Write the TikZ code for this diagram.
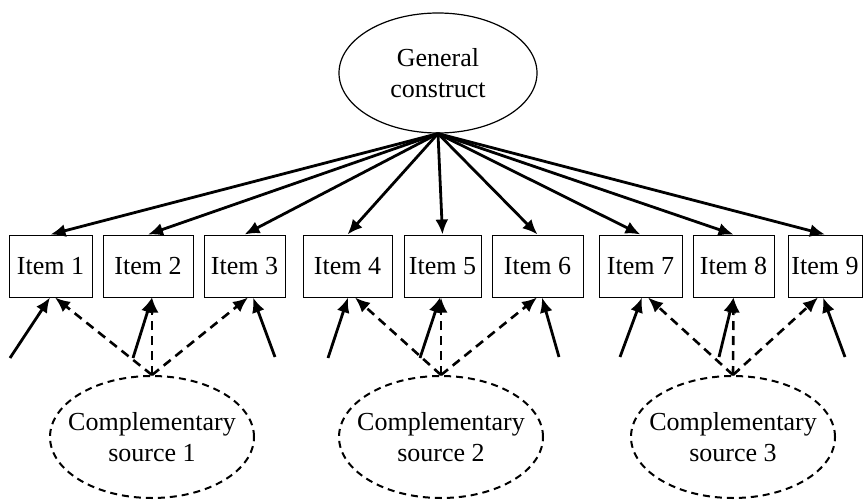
\documentclass[tikz,border=0pt]{standalone}
\usepackage{fontspec}
\setmainfont{Liberation Serif}
\usetikzlibrary{arrows.meta,shapes.geometric}
\begin{document}
\begin{tikzpicture}[x=1pt,y=-1pt,
  every node/.style={font=\fontsize{26}{31}\selectfont},
  itembox/.style={draw,line width=1pt,minimum height=62pt,inner sep=0pt,minimum width=#1},
  latent/.style={draw,ellipse,line width=1.2pt,minimum width=198pt,minimum height=120pt,align=center,inner sep=0pt},
  source/.style={draw,ellipse,line width=2pt,dash pattern=on 7pt off 5pt,minimum width=204pt,minimum height=122pt,align=center,inner xsep=-15pt,inner ysep=0pt},
  load/.style={line width=2.8pt,-{Latex[length=15pt,width=13pt]}},
  err/.style={line width=2.8pt,-{Latex[length=15pt,width=13pt]}},
  comp/.style={line width=2.6pt,dash pattern=on 9pt off 6pt,-{Latex[length=15pt,width=13pt]}}]
\useasboundingbox (0,0) rectangle (864,500);
\node[latent] (G) at (438,73) {General\\construct};
\node[itembox=83pt] (I1) at (50.5,266) {Item 1};
\node[itembox=90pt] (I2) at (148,266) {Item 2};
\node[itembox=81pt] (I3) at (244.5,266) {Item 3};
\node[itembox=89pt] (I4) at (347.5,266) {Item 4};
\node[itembox=77pt] (I5) at (442.5,266) {Item 5};
\node[itembox=91pt] (I6) at (537.5,266) {Item 6};
\node[itembox=83pt] (I7) at (640.5,266) {Item 7};
\node[itembox=81pt] (I8) at (733.5,266) {Item 8};
\node[itembox=74pt] (I9) at (825,266) {Item 9};
\node[source] (S1) at (152,437) {Complementary\\source 1};
\node[source] (S2) at (441,437) {Complementary\\source 2};
\node[source] (S3) at (733,437) {Complementary\\source 3};
\foreach \i in {1,...,9} {\draw[load] (G.south) -- (I\i.north);}
\coordinate (e1) at (10,358);
\coordinate (e2) at (133,358);
\coordinate (e3) at (275,357);
\coordinate (e4) at (328,358);
\coordinate (e5) at (420,358);
\coordinate (e6) at (559,357);
\coordinate (e7) at (620,357);
\coordinate (e8) at (719,357);
\coordinate (e9) at (845,357);
\foreach \i/\s in {1/-0.5,2/4,3/8.5,4/0.5,5/-2.5,6/4.5,7/1.5,8/0,9/-2}
  {\draw[err] (e\i) -- ([xshift=\s pt]I\i.south);}
\foreach \i/\j/\s in {1/1/4.5,2/1/4,3/1/3.5,4/2/7.5,5/2/-1.5,6/2/-0.5,7/3/7.5,8/3/0,9/3/-7}
  {\draw[comp] (S\j.north) -- ([xshift=\s pt]I\i.south);}
\end{tikzpicture}
\end{document}
